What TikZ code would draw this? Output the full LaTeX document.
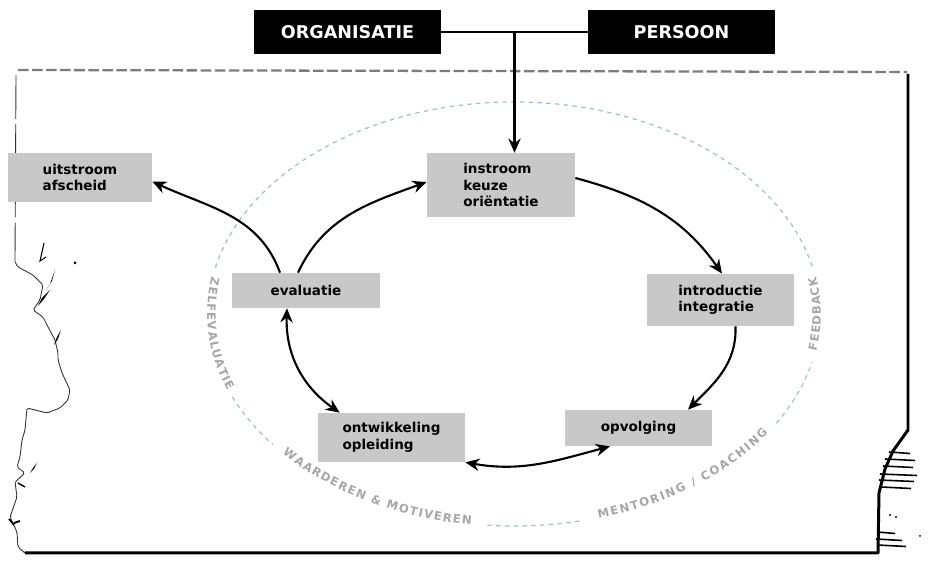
\documentclass[tikz,border=0pt]{standalone}
\usepackage{fontspec}
\setmainfont{DejaVu Sans}
\usepackage{tikz}
\usetikzlibrary{arrows.meta,positioning,calc,decorations.text}
\definecolor{tapegray}{HTML}{C8C8C8}
\definecolor{ringline}{HTML}{A3BEC6}
\definecolor{ringtext}{HTML}{A6A6A6}
\definecolor{edgegray}{HTML}{7C7C7C}
\newcommand\ringfont{\fontsize{6.6}{6.6}\selectfont\bfseries}

\begin{document}
\begin{tikzpicture}[x=0.02cm, y=0.02cm, >={Stealth[length=8pt,width=7pt]},
  tape/.style={fill=tapegray, inner sep=2pt, align=left, font=\fontsize{7.7}{9.4}\selectfont\bfseries},
  blacktape/.style={fill=black, text=white, inner sep=2pt, minimum width=3.74cm, minimum height=0.88cm, font=\fontsize{10}{12}\selectfont\bfseries},
  flow/.style={->, line width=1.2pt},
  ring/.style={ringline, line width=0.7pt, dash pattern=on 2.5pt off 2.5pt},
  ringlabel/.style={decorate, decoration={text along path, text align={fit to path}, text color=ringtext, raise=-0.5pt, text={|\ringfont|#1}}},
  torn/.style={line width=0.5pt, black!80}]
\useasboundingbox (0,0) rectangle (931,581);

% paper sheet
\draw[edgegray, line width=1.3pt, dash pattern=on 6pt off 2pt] (18,511) -- (907,509);
\draw[torn, dash pattern=on 25pt off 3pt] (16,506) -- (15,319);
\draw[torn, rounded corners=1pt] (15,319) -- (18,314) -- (33,306) -- (43,296) -- (40,281) -- (33,271) -- (43,264) -- (47,256) -- (55,241) -- (58,228) -- (58,221) -- (62,208) -- (70,191) -- (68,181) -- (60,173) -- (47,168) -- (27,173) -- (25,151) -- (22,141) -- (20,124) -- (17,114) -- (25,108) -- (15,99) -- (17,84) -- (10,64) -- (17,49) -- (18,34) -- (25,28);
\draw[line width=1.7pt, line join=round] (908,507) -- (908,151) -- (893,130) -- (885,112) -- (879,88) -- (878,28) -- (25,28);
\fill (55,311) -- (52,300) -- (46,291) -- (50,297) -- cycle;
\fill (50,291) -- (44,282) -- (38,275) -- (42,283) -- cycle;
\fill (61,251) -- (58,242) -- (54,236) -- (57,244) -- cycle;
\fill (37,118) -- (34,112) -- (30,108) -- (33,113) -- cycle;
\draw[line width=0.8pt] (18,98) -- (25,94);
\draw[line width=1pt] (9,62) -- (14,56) (14,58) -- (20,60);
\draw[line width=0.6pt] (44,338) -- (40,320) -- (46,324);
\fill (75,318) circle (1.5);
\foreach \y/\a/\b in {129/889/910, 122/885/915, 115/883/913, 107/880/917, 101/879/914, 94/881/911, 49/877/895, 42/876/902, 36/877/906}
  \draw[line width=0.9pt] (\a,\y) -- (\b,\y-1.5);
\fill (890,66) circle (1.2) (896,64) circle (1.2) (920,45) circle (1);

% dashed ring with its labels
\foreach \a/\b in {13/168, 203/218, 265/283, 329/347}
  \draw[ring] (514,267) ++(\a:306 and 212) arc[start angle=\a, end angle=\b, x radius=306, y radius=212];
\path[ringlabel=ZELFEVALUATIE] (514,267) ++(170:306 and 212) arc[start angle=170, end angle=201, x radius=306, y radius=212];
\path[ringlabel=WAARDEREN {\&} MOTIVEREN] (514,267) ++(221:306 and 212) arc[start angle=221, end angle=262, x radius=306, y radius=212];
\path[ringlabel=MENTORING / COACHING] (514,267) ++(286:306 and 212) arc[start angle=286, end angle=326, x radius=306, y radius=212];
\path[ringlabel=FEEDBACK] (514,267) ++(350:306 and 212) arc[start angle=350, end angle=370, x radius=306, y radius=212];

% top labels
\node[blacktape] (org) at (347.5,549) {ORGANISATIE};
\node[blacktape] (pers) at (681.5,549) {PERSOON};
\coordinate (join) at ($(org.east)!0.5!(pers.west)$);

% stages
\node[tape, minimum width=2.88cm, minimum height=0.98cm] (uit) at (80,403.5) {uitstroom\\afscheid};
\node[tape, minimum width=2.96cm, minimum height=1.28cm] (inst) at (501,396) {instroom\\keuze\\oriëntatie};
\node[tape, minimum width=2.94cm, minimum height=1.04cm] (intro) at (720.5,281) {introductie\\integratie};
\node[tape, minimum width=2.96cm, minimum height=0.70cm] (eval) at (306,290.5) {evaluatie};
\node[tape, minimum width=2.94cm, minimum height=0.98cm] (ontw) at (391.5,143.5) {ontwikkeling\\opleiding};
\node[tape, minimum width=2.94cm, minimum height=0.72cm] (opv) at (638.5,153) {opvolging};

\draw[line width=1.1pt] (org.east) -- (pers.west);
\draw[flow] (join) -- (join |- inst.north);
\draw[flow] ([xshift=-0.52cm]eval.north) to[out=110, in=-25] ([yshift=-0.08cm]uit.east);
\draw[flow] ([xshift=-0.16cm]eval.north) to[out=65, in=200] ([yshift=0.06cm]inst.west);
\draw[flow] ([yshift=0.14cm]inst.east) to[out=-15, in=125] ([xshift=0.03cm]intro.north);
\draw[flow] ([xshift=0.3cm]intro.south) to[out=-88, in=45] ([xshift=0.99cm]opv.north);
\draw[flow, <->] (ontw.south east) to[out=-10, in=195] ([xshift=-0.57cm]opv.south);
\draw[flow, <->] ([xshift=-0.38cm]eval.south) to[out=-92, in=145] ([xshift=0.44cm]ontw.north west);
\end{tikzpicture}
\end{document}
